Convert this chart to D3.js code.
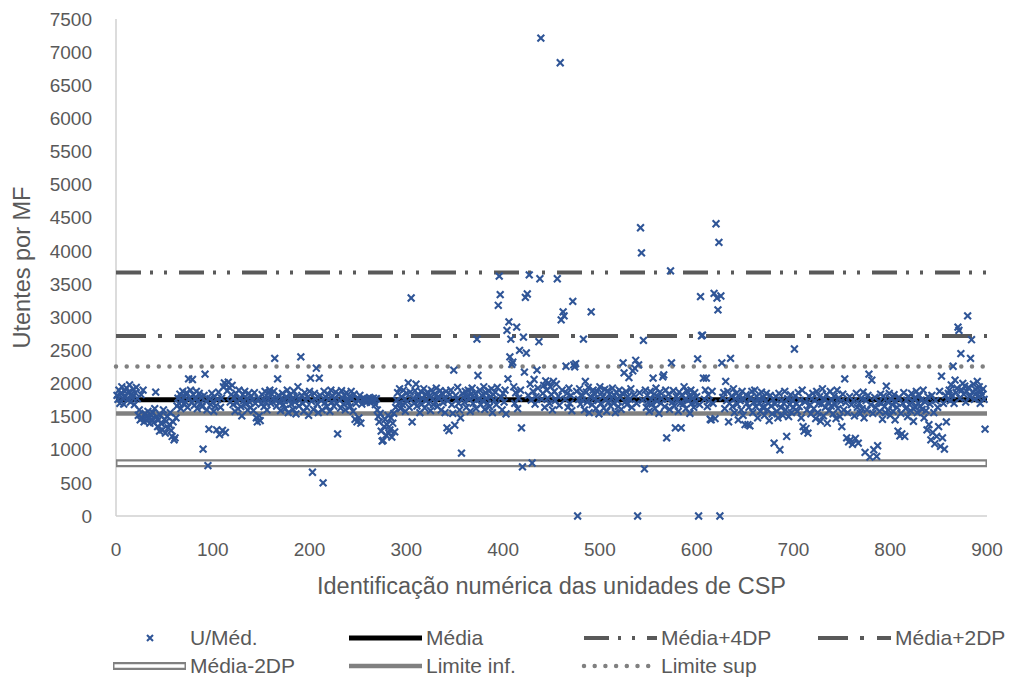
<!DOCTYPE html>
<html lang="pt">
<head>
<meta charset="utf-8">
<title>Utentes por MF</title>
<script src="https://cdn.jsdelivr.net/npm/d3@7/dist/d3.min.js"></script>
<style>
  body { margin: 0; background: #fff; }
  text { font-family: "Liberation Sans", Arial, sans-serif; fill: #595959; }
</style>
</head>
<body>
<div id="chart"></div>
<script>
// U/Méd. por unidade (unidade n = posição n+1 no array)
var valores = [
 1820,1760,1900,1700,1850,1950,1780,1690,1880,1810,
 1930,1750,1870,1980,1720,1840,1790,1910,1680,1860,
 1940,1770,1520,1600,1450,1830,1480,1900,1420,1550,
 1500,1440,1580,1470,1400,1530,1460,1560,1410,1620,
 1870,1500,1350,1450,1280,1520,1390,1300,1600,1460,
 1250,1430,1500,1330,1380,1560,1290,1200,1420,1150,
 1180,1480,1660,1780,1700,1840,1620,1750,1880,1690,
 1800,1720,1860,1640,2070,1780,1900,1710,2060,1830,
 1670,1760,1880,1620,1740,1850,1700,1790,1650,1010,
 1820,2140,1730,1600,760,1310,1770,1680,1850,1720,
 1580,1800,1660,1300,1760,1870,1230,1640,1780,1290,
 1950,2010,1260,1980,1890,2020,1940,1720,1830,1970,
 1680,1790,1580,1850,1710,1620,1900,1760,1650,1510,
 1830,1740,1880,1690,1770,1600,1850,1720,1640,1810,
 1750,1590,1860,1700,1480,1420,1780,1510,1440,1690,
 1830,1760,1650,1880,1720,1600,1790,1860,1900,1700,
 1840,1770,1880,2380,1740,1660,2070,1820,1710,1590,
 1780,1850,1680,1740,1620,1800,1900,1560,1760,1830,
 1690,1770,1610,1880,1720,1540,1800,1950,1660,1750,
 2400,1820,1700,1580,1860,1740,1640,1790,1520,1880,
 2080,1730,660,1610,1850,1770,2230,1690,1560,2080,
 1820,1740,1600,500,1880,1710,1790,1650,1840,1760,
 1580,1900,1720,1810,1660,1760,1870,1700,1240,1840,
 1750,1630,1890,1780,1690,1820,1600,1860,1740,1710,
 1800,1650,1880,1770,1580,1840,1460,1700,1420,1760,
 1480,1820,1400,1690,1750,1780,1730,1760,1720,1770,
 1740,1790,1710,1760,1750,1780,1730,1680,1770,1600,
 1500,1420,1550,1280,1130,1140,1350,1460,1220,1380,
 1520,1250,1300,1480,1190,1400,1550,1270,1640,1750,
 1860,1700,1920,1620,1800,1680,1900,1760,1580,1850,
 1730,2010,1640,1870,3290,1420,1780,1700,1890,1990,
 1660,1810,1740,1560,1880,1690,1770,1920,1630,1840,
 1750,1870,1700,1810,1590,1900,1760,1680,1840,1720,
 1930,1650,1800,1770,1890,1600,1850,1710,1780,1560,
 1880,1330,1740,1290,1830,1900,1680,1550,2200,1370,
 1820,1760,1940,1700,1600,1480,950,1850,1790,1720,
 1880,1640,1810,1900,1760,1580,1840,1930,1700,1790,
 1850,1620,2670,2120,1760,1900,1680,1820,1740,1950,
 1610,1860,1780,1700,1890,1650,1800,1920,1560,1830,
 1750,1870,1680,1940,3180,3620,3340,1790,1600,1850,
 1720,1900,1540,2800,2070,2930,2400,2670,2290,2320,
 1950,1700,1860,2850,1620,1780,2500,1900,1330,740,
 2700,2170,3300,2460,3350,1820,3640,1990,1750,800,
 1880,2060,1690,1800,2200,1930,2630,3580,7210,1760,
 1850,1970,1640,2040,1900,1780,2010,1700,1950,1830,
 1600,2030,1880,1740,1990,3580,1810,1670,6840,2960,
 1900,3080,3020,1760,2260,1850,1640,1930,1700,1820,
 1590,3240,2280,2250,2300,1880,0,1760,1920,1690,
 1830,1750,2670,1600,2030,1870,1720,1940,1560,1800,
 3080,1680,1900,1770,1840,1620,1880,1740,1540,1950,
 1700,1860,1800,1630,1910,1750,1580,1890,1720,1840,
 1660,1780,1930,1700,1820,1560,1870,1740,1650,1900,
 1790,1610,1850,2310,2160,1720,1880,1680,1800,2090,
 1760,1920,1640,2190,1830,2230,2350,1700,0,2280,
 1860,4350,3970,1750,2650,710,1900,1640,1820,1710,
 1580,1880,1760,1690,2080,1840,1620,1930,1730,1800,
 1550,1870,1700,1780,2100,2130,1650,1900,1180,1760,
 1840,1610,3700,2310,1720,1890,1660,1330,1800,1750,
 1580,1870,1700,1330,1830,1690,1950,1760,1620,1880,
 1740,1810,1550,1900,1700,1780,1640,1860,1720,1800,
 2370,0,1680,3310,2720,2730,2080,1760,1900,2080,
 1650,1830,1740,1460,1450,1880,1700,3360,1470,4410,
 3290,3110,4130,0,3320,2310,1790,1860,1620,2030,
 1740,1880,1420,1700,2380,1810,1650,1920,1560,1770,
 1850,1690,1450,1800,1740,1600,1880,1520,1760,1380,
 1830,1700,1380,1640,1360,1790,1880,1560,1720,1900,
 1650,1810,1480,1760,1700,1580,1870,1640,1790,1520,
 1730,1850,1600,1700,1440,1820,1660,1540,1760,1100,
 1690,1800,1580,1480,1850,1000,1640,1750,1520,1700,
 1880,1600,1200,1770,1500,1680,1830,1560,1740,1640,
 2520,1810,1700,1580,1860,1650,1750,1480,1900,1350,
 1280,1720,1320,1600,1250,1810,1680,1540,1770,1850,
 1620,1740,1470,1880,1560,1700,1800,1430,1690,1920,
 1510,1760,1640,1830,1400,1720,1590,1880,1660,1750,
 1540,1810,1690,1470,1900,1620,1780,1500,1730,1350,
 1840,1600,2070,1710,1180,1560,1120,1800,1150,1680,
 1080,1740,1510,1170,1850,1640,1100,1700,1550,1780,
 1620,1870,1480,960,1740,1600,1820,2140,890,1680,
 2050,1550,1000,1790,1640,900,1060,1720,1580,1840,
 1700,1460,1810,1650,1560,1960,1730,1600,1850,1520,
 1760,1680,1580,1830,1450,1720,1640,1280,1790,1210,
 1550,1240,1700,1860,1200,1620,1750,1500,1800,1680,
 1590,1850,1720,1430,1780,1640,1880,1560,1700,1820,
 1660,1750,1610,1900,1480,1720,1590,1300,1800,1380,
 1690,1150,1820,1260,1560,1090,1740,1200,1640,1350,
 1880,1050,2110,1180,1700,1010,1820,1420,1760,1850,
 1900,1740,1980,1820,2260,1700,2050,1860,1930,2850,
 2800,1780,2450,1900,2000,1840,1960,1720,1880,3020,
 1940,1800,2380,2660,1870,1990,1760,1910,1850,2030,
 1790,1950,1700,1880,1830,1920,1760,1310
];

// linhas de referência
var linhasNomes = ["Média", "Média+4DP", "Média+2DP", "Média-2DP", "Limite inf.", "Limite sup"];
var linhasValores = [1755, 3675, 2715, 795, 1545, 2255];

var xTicks = [0, 100, 200, 300, 400, 500, 600, 700, 800, 900];
var yTicks = [0, 500, 1000, 1500, 2000, 2500, 3000, 3500, 4000, 4500, 5000, 5500, 6000, 6500, 7000, 7500];

// estilo de cada linha
var estilos = {
  "Média":       { color: "#000000", width: 5,   dash: null },
  "Média+4DP":   { color: "#595959", width: 4,   dash: "25 9 3 11 3 12" },
  "Média+2DP":   { color: "#595959", width: 4,   dash: "30 12 4 13" },
  "Média-2DP":   { color: "#808080", width: 8,   dash: null, inner: true },
  "Limite inf.": { color: "#808080", width: 4.5, dash: null },
  "Limite sup":  { color: "#808080", width: 4.5, dash: "0 10.7", round: true }
};

var W = 1011, H = 688;
var svg = d3.select("#chart").append("svg")
    .attr("width", W)
    .attr("height", H);

var x = d3.scaleLinear().domain([0, 900]).range([116, 987]);
var y = d3.scaleLinear().domain([0, 7500]).range([516, 19]);
var azul = "#2F5597";

// eixos (só linhas, sem marcas)
svg.append("line")
    .attr("x1", x(0)).attr("x2", x(0))
    .attr("y1", y(7500)).attr("y2", y(0))
    .style("stroke", "#D0D0D0").style("stroke-width", 1.5);
svg.append("line")
    .attr("x1", x(0)).attr("x2", x(900))
    .attr("y1", y(0)).attr("y2", y(0))
    .style("stroke", "#D0D0D0").style("stroke-width", 1.5);

svg.selectAll(".ytick")
    .data(yTicks)
    .enter()
    .append("text")
    .attr("class", "ytick")
    .attr("x", 92)
    .attr("y", function(d) { return y(d); })
    .attr("dy", "0.35em")
    .style("text-anchor", "end")
    .style("font-size", "19px")
    .text(function(d) { return d; });

svg.selectAll(".xtick")
    .data(xTicks)
    .enter()
    .append("text")
    .attr("class", "xtick")
    .attr("x", function(d) { return x(d); })
    .attr("y", 549)
    .attr("dy", "0.35em")
    .style("text-anchor", "middle")
    .style("font-size", "19px")
    .text(function(d) { return d; });

svg.append("text")
    .attr("x", (x(0) + x(900)) / 2)
    .attr("y", 586)
    .attr("dy", "0.35em")
    .style("text-anchor", "middle")
    .style("font-size", "23.5px")
    .text("Identificação numérica das unidades de CSP");

svg.append("text")
    .attr("transform", "translate(22," + ((y(0) + y(7500)) / 2) + ") rotate(-90)")
    .attr("dy", "0.35em")
    .style("text-anchor", "middle")
    .style("font-size", "23.5px")
    .text("Utentes por MF");

function desenhaLinha(g, nome, x1, x2, yy) {
    var s = estilos[nome];
    var l = g.append("line")
        .attr("x1", x1).attr("x2", x2)
        .attr("y1", yy).attr("y2", yy)
        .style("stroke", s.color)
        .style("stroke-width", s.width);
    if (s.dash) l.style("stroke-dasharray", s.dash);
    if (s.round) l.style("stroke-linecap", "round");
    if (s.inner) {
        g.append("line")
            .attr("x1", x1 + 1.5).attr("x2", x2 - 1.5)
            .attr("y1", yy).attr("y2", yy)
            .style("stroke", "#ffffff")
            .style("stroke-width", 3.5);
    }
}

// linhas de referência no gráfico
var gLinhas = svg.append("g");
linhasNomes.forEach(function(nome, i) {
    desenhaLinha(gLinhas, nome, x(0), x(900), y(linhasValores[i]));
});

function cruz(sel, s) {
    sel.attr("d", "M" + (-s) + "," + (-s) + "L" + s + "," + s + "M" + (-s) + "," + s + "L" + s + "," + (-s))
        .style("stroke", azul)
        .style("stroke-width", 2.1)
        .style("fill", "none");
}

svg.append("g").selectAll("path")
    .data(valores)
    .enter()
    .append("path")
    .attr("transform", function(d, i) { return "translate(" + x(i + 1) + "," + y(d) + ")"; })
    .call(cruz, 3.4);

// legenda
var legColX = [113, 349, 584, 818];
var legRowY = [638, 666];
var legItens = [
    { nome: "U/Méd.", col: 0, row: 0 },
    { nome: "Média", col: 1, row: 0 },
    { nome: "Média+4DP", col: 2, row: 0 },
    { nome: "Média+2DP", col: 3, row: 0 },
    { nome: "Média-2DP", col: 0, row: 1 },
    { nome: "Limite inf.", col: 1, row: 1 },
    { nome: "Limite sup", col: 2, row: 1 }
];
var leg = svg.append("g");
legItens.forEach(function(it) {
    var x0 = legColX[it.col], yy = legRowY[it.row];
    var g = leg.append("g");
    if (it.nome === "U/Méd.") {
        g.append("path")
            .attr("transform", "translate(" + (x0 + 37) + "," + yy + ")")
            .call(cruz, 3);
    } else {
        desenhaLinha(g, it.nome, x0, x0 + 73, yy);
    }
    g.append("text")
        .attr("x", x0 + 77)
        .attr("y", yy)
        .attr("dy", "0.35em")
        .style("font-size", "21px")
        .text(it.nome);
});
</script>
</body>
</html>
